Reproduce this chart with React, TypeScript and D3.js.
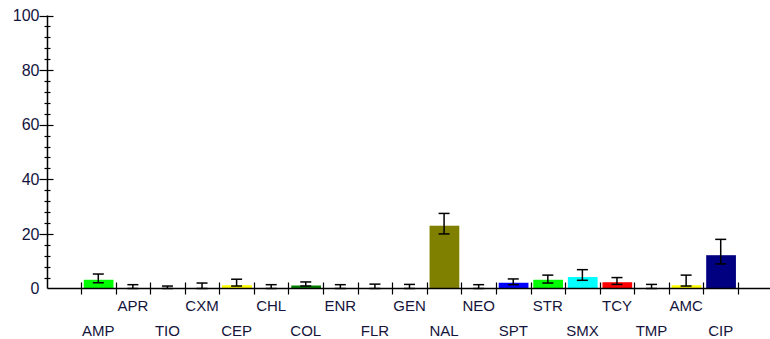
import React, { useEffect, useRef } from 'react';
import * as d3 from 'd3';

const categories = ['AMP', 'APR', 'TIO', 'CXM', 'CEP', 'CHL', 'COL', 'ENR', 'FLR', 'GEN', 'NAL', 'NEO', 'SPT', 'STR', 'SMX', 'TCY', 'TMP', 'AMC', 'CIP'];
const values = [3.2, 0, 0, 0, 1.2, 0, 1.1, 0, 0, 0, 23.0, 0, 2.1, 3.2, 4.2, 2.3, 0, 1.2, 12.2];
const errLow = [2.1, 0, 0, 0, 0.9, 0, 0.9, 0, 0, 0, 20.0, 0, 1.4, 2.0, 3.0, 1.5, 0, 0.9, 9.0];
const errHigh = [5.3, 1.4, 0.9, 2.0, 3.4, 1.4, 2.4, 1.4, 1.6, 1.5, 27.5, 1.4, 3.5, 4.9, 6.9, 4.0, 1.5, 4.9, 18.0];
const barColors = ['#00ff00', '#808080', '#808080', '#808080', '#ffff00', '#808080', '#008000', '#808080', '#808080', '#808080', '#808000', '#808080', '#0000ff', '#00ff00', '#00ffff', '#ff0000', '#808080', '#ffff00', '#000080'];
const yTicks = [0, 20, 40, 60, 80, 100];

const W = 770;
const H = 339;

const App = () => {
  const svgRef = useRef<SVGSVGElement>(null);

  useEffect(() => {
    const svg = d3.select(svgRef.current);
    svg.selectAll('*').remove();

    const axisX = 47.5;
    const axisY = 288.5;
    const textColor = '#14143c';
    const font = 'Arial, "Liberation Sans", sans-serif';

    const x = d3.scaleBand<string>().domain(categories).range([81, 738]).padding(0);
    const y = d3.scaleLinear().domain([0, 100]).range([axisY, 15.5]);
    const bw = x.bandwidth();

    const data = categories.map((c, i) => ({
      c, i, v: values[i], lo: errLow[i], hi: errHigh[i], color: barColors[i]
    }));

    // bars
    svg.append('g')
      .selectAll('rect')
      .data(data.filter(d => d.v > 0))
      .join('rect')
      .attr('x', d => x(d.c)! + bw * 0.08)
      .attr('width', bw * 0.86)
      .attr('y', d => y(d.v))
      .attr('height', d => axisY - y(d.v))
      .attr('fill', d => d.color);

    // y axis
    svg.append('line')
      .attr('x1', axisX).attr('x2', axisX)
      .attr('y1', y(100)).attr('y2', axisY)
      .attr('stroke', '#000').attr('stroke-width', 1.5);

    const minor = d3.range(4, 100, 4).filter(v => v % 20 !== 0);
    svg.append('g')
      .selectAll('line')
      .data(minor)
      .join('line')
      .attr('x1', axisX - 3).attr('x2', axisX + 3)
      .attr('y1', d => Math.round(y(d)) + 0.5).attr('y2', d => Math.round(y(d)) + 0.5)
      .attr('stroke', '#000').attr('stroke-width', 1.2);

    svg.append('g')
      .selectAll('line')
      .data(yTicks.filter(t => t > 0))
      .join('line')
      .attr('x1', axisX - 8).attr('x2', axisX + 6)
      .attr('y1', d => Math.round(y(d)) + 0.5).attr('y2', d => Math.round(y(d)) + 0.5)
      .attr('stroke', '#000').attr('stroke-width', 1.2);

    svg.append('g')
      .selectAll('text')
      .data(yTicks)
      .join('text')
      .attr('x', 39.5)
      .attr('y', d => y(d))
      .attr('dy', '0.36em')
      .attr('text-anchor', 'end')
      .style('font-family', font)
      .style('font-size', '16px')
      .style('fill', textColor)
      .text(d => d);

    // x axis
    svg.append('line')
      .attr('x1', axisX).attr('x2', W)
      .attr('y1', axisY).attr('y2', axisY)
      .attr('stroke', '#000').attr('stroke-width', 1.5);

    const bounds = categories.map(c => x(c)!).concat([x(categories[categories.length - 1])! + bw]);
    svg.append('g')
      .selectAll('line')
      .data(bounds)
      .join('line')
      .attr('x1', d => Math.round(d) + 0.5).attr('x2', d => Math.round(d) + 0.5)
      .attr('y1', axisY - 6).attr('y2', axisY + 6)
      .attr('stroke', '#000').attr('stroke-width', 1.2);

    svg.append('g')
      .selectAll('text')
      .data(data)
      .join('text')
      .attr('x', d => x(d.c)! + bw / 2)
      .attr('y', d => (d.i % 2 === 0 ? 335.5 : 311))
      .attr('text-anchor', 'middle')
      .style('font-family', font)
      .style('font-size', '15px')
      .style('fill', textColor)
      .text(d => d.c);

    // error bars
    const eb = svg.append('g')
      .selectAll('g')
      .data(data)
      .join('g')
      .attr('stroke', '#000')
      .attr('stroke-width', 1.5);
    const cx = (d: any) => x(d.c)! + bw / 2;
    eb.append('line')
      .attr('x1', cx).attr('x2', cx)
      .attr('y1', d => y(d.hi)).attr('y2', d => y(d.lo));
    eb.append('line')
      .attr('x1', d => cx(d) - 5.5).attr('x2', d => cx(d) + 5.5)
      .attr('y1', d => y(d.hi)).attr('y2', d => y(d.hi));
    eb.append('line')
      .attr('x1', d => cx(d) - 5.5).attr('x2', d => cx(d) + 5.5)
      .attr('y1', d => y(d.lo)).attr('y2', d => y(d.lo));
  }, []);

  return (
    <svg
      ref={svgRef}
      width={W}
      height={H}
      style={{ position: 'absolute', left: 0, top: 0, background: '#fff' }}
    />
  );
};

export default App;
